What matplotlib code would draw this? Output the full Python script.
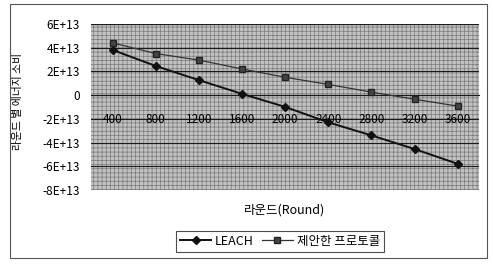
import matplotlib.pyplot as plt
import matplotlib.patches as mpatches
import numpy as np

plt.rcParams['font.family'] = ['Noto Sans CJK KR', 'DejaVu Sans']
plt.rcParams['axes.unicode_minus'] = False
plt.rcParams['hatch.color'] = '#7a7a7a'
plt.rcParams['hatch.linewidth'] = 0.5

rounds = ['400', '800', '1200', '1600', '2000', '2400', '2800', '3200', '3600']
leach = [3.8e13, 2.45e13, 1.26e13, 0.1e13, -1.0e13, -2.3e13, -3.4e13, -4.55e13, -5.8e13]
proposed = [4.4e13, 3.5e13, 2.95e13, 2.2e13, 1.5e13, 0.9e13, 0.25e13, -0.35e13, -0.93e13]
yticks = [6e13, 4e13, 2e13, 0, -2e13, -4e13, -6e13, -8e13]
ytick_labels = ['6E+13', '4E+13', '2E+13', '0', '-2E+13', '-4E+13', '-6E+13', '-8E+13']

fig = plt.figure(figsize=(4.93, 2.66), dpi=100)
ax = fig.add_axes([0.185, 0.286, 0.787, 0.624])

x = np.arange(len(rounds))
ax.set_xlim(-0.5, len(rounds) - 0.5)
ax.set_ylim(-8e13, 6e13)

# dithered gray background
bg = mpatches.Rectangle((0, 0), 1, 1, transform=ax.transAxes, facecolor='#c2c2c2',
                        edgecolor='#7a7a7a', hatch='++++', linewidth=0, zorder=0)
ax.add_patch(bg)
ax.set_facecolor('none')

for yv in yticks:
    ax.axhline(yv, color='#1a1a1a', linewidth=0.8, zorder=1)

ax.plot(x, leach, color='#111111', linewidth=1.4, marker='D', markersize=4.5,
        label='LEACH', zorder=3)
ax.plot(x, proposed, color='#333333', linewidth=0.9, marker='s', markersize=4.5,
        markerfacecolor='#444444', markeredgecolor='#222222', label='제안한 프로토콜', zorder=3)

ax.set_yticks(yticks)
ax.set_yticklabels(ytick_labels)
ax.set_xticks(x)
ax.set_xticklabels(rounds)
ax.tick_params(axis='y', length=0, labelsize=8.5, pad=8)
ax.tick_params(axis='x', length=0, labelsize=8.5, pad=13)
ax.spines['bottom'].set_position(('data', 0))
for s in ['top', 'right', 'left', 'bottom']:
    ax.spines[s].set_visible(False)
ax.spines['bottom'].set_visible(True)
ax.spines['bottom'].set_color('#1a1a1a')
ax.spines['bottom'].set_linewidth(0.8)

fig.text(0.036, 0.617, '라운드 별 에너지 소비', rotation=90, ha='center', va='center', fontsize=7.8)
fig.text(0.578, 0.21, '라운드(Round)', ha='center', va='center', fontsize=9)

leg = fig.legend(loc='center', bbox_to_anchor=(0.568, 0.093), ncol=2, fontsize=9,
                 frameon=True, fancybox=False, edgecolor='#222222', handlelength=2.5,
                 columnspacing=0.6, handletextpad=0.3, borderpad=0.3)
leg.get_frame().set_linewidth(0.8)

# outer chart border
fig.patches.append(mpatches.Rectangle((0.02, 0.03), 0.968, 0.955, transform=fig.transFigure,
                                      fill=False, edgecolor='#555555', linewidth=0.8))

fig.savefig('out.png', dpi=100)
